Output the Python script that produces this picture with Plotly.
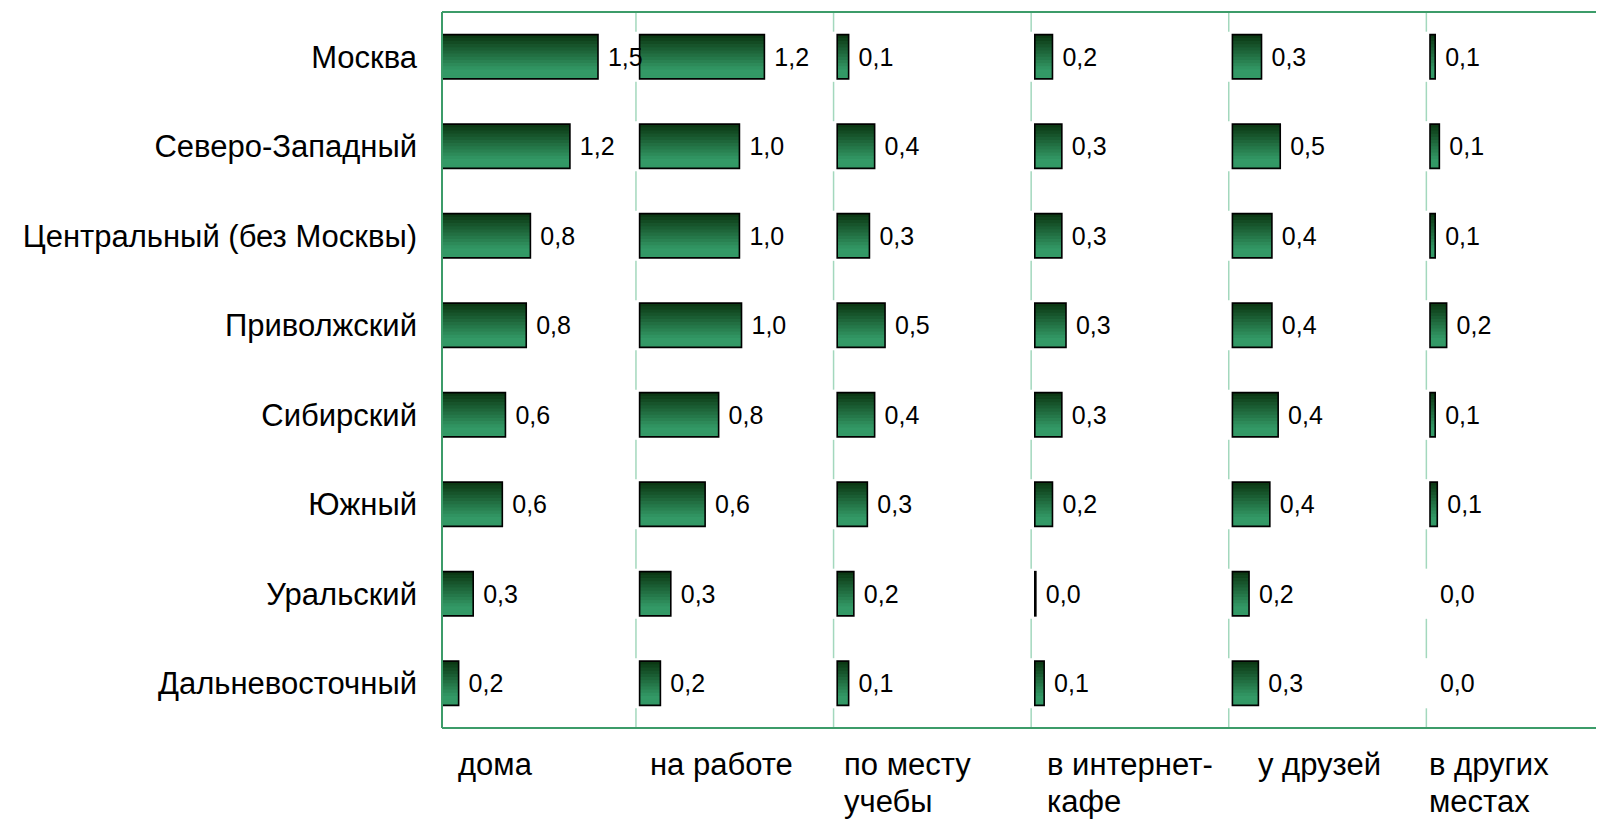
import plotly.graph_objects as go

# regions (rows, top to bottom) and places of access (panels, left to right)
regions = ["Москва", "Северо-Западный", "Центральный (без Москвы)", "Приволжский",
           "Сибирский", "Южный", "Уральский", "Дальневосточный"]
places = ["дома", "на работе", "по месту<br>учебы", "в интернет-<br>кафе", "у друзей", "в других<br>местах"]

home = [1.50, 1.23, 0.85, 0.81, 0.61, 0.58, 0.30, 0.16]
work = [1.20, 0.96, 0.96, 0.98, 0.76, 0.63, 0.30, 0.20]
study = [0.11, 0.36, 0.31, 0.46, 0.36, 0.29, 0.16, 0.11]
cafe = [0.17, 0.26, 0.26, 0.30, 0.26, 0.17, 0.01, 0.09]
friends = [0.28, 0.46, 0.38, 0.38, 0.44, 0.36, 0.16, 0.25]
other = [0.05, 0.09, 0.05, 0.16, 0.05, 0.07, 0.0, 0.0]

series = [home, work, study, cafe, friends, other]

# layout constants
PANEL = 1.9          # width of each panel in value units
BAR_W = 0.494        # bar thickness (category units)
GAP_H = 0.28         # half height of the gap in the separator lines
LABEL_X = [0.13, 1.98, 3.85, 5.80, 7.83, 9.47]
N_STRIPES = 14
FONT = "Liberation Sans, Arial, sans-serif"

ys, xs, bases = [], [], []
for k, vals in enumerate(series):
    for r, v in zip(regions, vals):
        ys.append(r)
        xs.append(v)
        bases.append(k * PANEL)

top_rgb = (10, 52, 16)
bot_rgb = (51, 153, 102)


def stripe_color(t):
    t = min(1.0, t / 0.8)
    c = [round(a + (b - a) * t) for a, b in zip(top_rgb, bot_rgb)]
    return f"rgb({c[0]},{c[1]},{c[2]})"


fig = go.Figure()

# light separators between panels, interrupted at the bar rows
sep_x, sep_y = [], []
n = len(regions)
for k in range(1, len(series)):
    xk = k * PANEL - 0.035
    for i in range(n + 1):
        y0 = -0.5 if i == 0 else i - 1 + GAP_H
        y1 = n - 0.5 if i == n else i - GAP_H
        sep_x += [xk, xk, None]
        sep_y += [y0, y1, None]
fig.add_trace(go.Scatter(
    x=sep_x, y=sep_y, mode="lines", yaxis="y2",
    line=dict(color="#a3d8bd", width=1.5), hoverinfo="skip", showlegend=False,
))

# gradient bars built from thin overlapping stripes
h = BAR_W / N_STRIPES
for j in range(N_STRIPES):
    w = h if j == N_STRIPES - 1 else h * 1.8
    fig.add_trace(go.Bar(
        y=ys, x=xs, base=bases, orientation="h",
        width=w, offset=-BAR_W / 2 + j * h,
        marker=dict(color=stripe_color((j + 0.5) / N_STRIPES), line=dict(width=0)),
        hoverinfo="skip", showlegend=False,
    ))

# outlines + value labels
fig.add_trace(go.Bar(
    y=ys, x=xs, base=bases, orientation="h",
    width=BAR_W, offset=-BAR_W / 2,
    marker=dict(color="rgba(0,0,0,0)",
                line=dict(color="#000000", width=[1.6 if v > 0 else 0 for v in xs])),
    texttemplate="\u00a0%{x:.1f}", textposition="outside", constraintext="none",
    textfont=dict(family=FONT, size=25, color="#000000"),
    cliponaxis=False, showlegend=False,
))

for k, name in enumerate(places):
    for li, line in enumerate(name.split("<br>")):
        fig.add_annotation(
            x=LABEL_X[k], xref="x", y=0, yref="paper", yshift=-36 - 37 * li,
            xanchor="left", yanchor="middle", align="left", showarrow=False,
            text=line, font=dict(family=FONT, size=31, color="#000000"),
        )

border = "#3c9c69"
for shp in [dict(x0=0, x1=0, y0=0, y1=1), dict(x0=0, x1=1, y0=1, y1=1), dict(x0=0, x1=1, y0=0, y1=0)]:
    fig.add_shape(type="line", xref="paper", yref="paper", line=dict(color=border, width=2), **shp)

fig.update_layout(
    width=1604, height=820,
    margin=dict(l=434, r=0, t=4, b=100),
    paper_bgcolor="white", plot_bgcolor="white",
    barmode="overlay", separators=", ",
    xaxis=dict(range=[0, 11.25], visible=False, fixedrange=True),
    yaxis=dict(type="category", range=[n - 0.5, -0.5], showgrid=False, zeroline=False,
               showline=False, ticks="", ticklabelstandoff=24,
               tickfont=dict(family=FONT, size=31, color="#000000")),
    yaxis2=dict(overlaying="y", range=[n - 0.5, -0.5], visible=False, showgrid=False, zeroline=False),
    showlegend=False,
)

fig.write_html("out.html")
